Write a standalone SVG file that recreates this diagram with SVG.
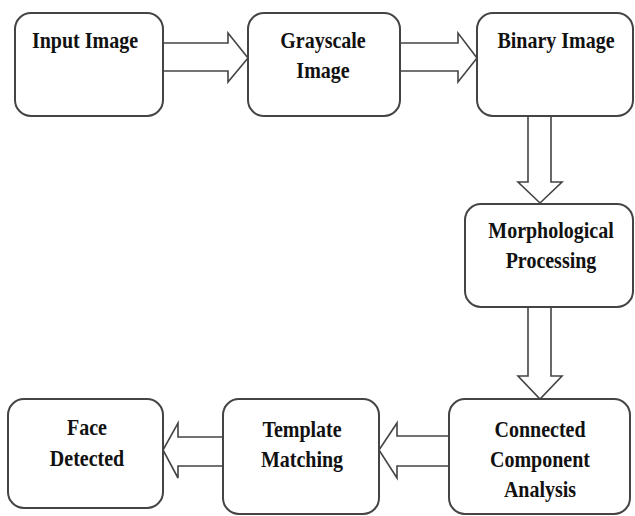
<svg xmlns="http://www.w3.org/2000/svg" width="635" height="516" viewBox="0 0 635 516">
<style>
.box{fill:#fff;stroke:#444;stroke-width:2}
.arr{fill:#fff;stroke:#444;stroke-width:1.6;stroke-linejoin:miter}
</style>
<rect width="635" height="516" fill="#fff"/>
<g id="connectors">
<polygon class="arr" points="163,43 228,43 228,33 248,58 228,82 228,71 163,71"/>
<polygon class="arr" points="400,43 458,43 458,33 477,58 458,82 458,71 400,71"/>
<polygon class="arr" points="528,116 551,116 551,182 562,182 540,203 518,182 528,182"/>
<polygon class="arr" points="528,307 551,307 551,376 562,376 540,399 518,376 528,376"/>
<polygon class="arr" points="449,436 397,436 397,423 379,450 397,478 397,466 449,466"/>
<polygon class="arr" points="223,437 178,437 178,423 163,450 178,478 178,466 223,466"/>
</g>
<g font-family="Liberation Serif" font-weight="bold" font-size="20" fill="#111" text-anchor="middle">
<g id="input">
<rect class="box" x="15" y="13" width="148" height="103" rx="16"/>
<text transform="translate(85,48) scale(1,1.13)">Input Image</text>
</g>
<g id="grayscale">
<rect class="box" x="248" y="13" width="152" height="103" rx="16"/>
<text transform="translate(323,48) scale(1,1.13)">Grayscale</text>
<text transform="translate(323,78) scale(1,1.13)">Image</text>
</g>
<g id="binary">
<rect class="box" x="477" y="13" width="156" height="103" rx="16"/>
<text transform="translate(556,48) scale(1,1.13)">Binary Image</text>
</g>
<g id="morph">
<rect class="box" x="465" y="204" width="168" height="103" rx="16"/>
<text transform="translate(551,238) scale(1,1.13)">Morphological</text>
<text transform="translate(551,268) scale(1,1.13)">Processing</text>
</g>
<g id="connected">
<rect class="box" x="449" y="399" width="181" height="115" rx="16"/>
<text transform="translate(540,437) scale(1,1.13)">Connected</text>
<text transform="translate(540,467) scale(1,1.13)">Component</text>
<text transform="translate(540,497) scale(1,1.13)">Analysis</text>
</g>
<g id="template">
<rect class="box" x="223" y="399" width="156" height="115" rx="16"/>
<text transform="translate(302,437) scale(1,1.13)">Template</text>
<text transform="translate(302,467) scale(1,1.13)">Matching</text>
</g>
<g id="face">
<rect class="box" x="8" y="399" width="155" height="109" rx="16"/>
<text transform="translate(87,435) scale(1,1.13)">Face</text>
<text transform="translate(87,466) scale(1,1.13)">Detected</text>
</g>
</g>
</svg>
